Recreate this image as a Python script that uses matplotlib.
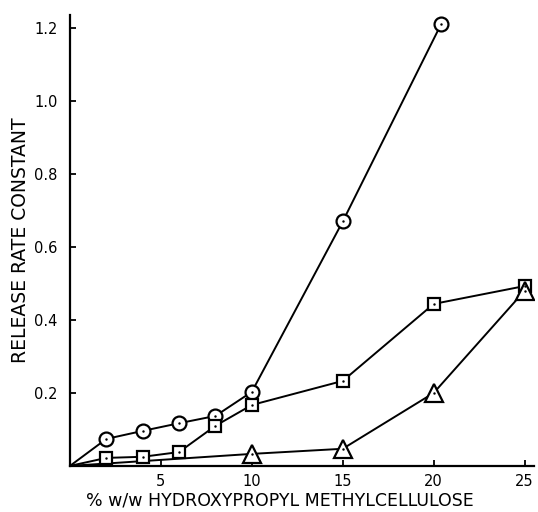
import numpy as np
import matplotlib.pyplot as plt

# release rate constant vs % w/w HPMC, three series
x_circle = [0, 2, 4, 6, 8, 10, 15, 20.4]
y_circle = [0, 0.074, 0.096, 0.117, 0.137, 0.203, 0.67, 1.21]
x_square = [0, 2, 4, 6, 8, 10, 15, 20, 25]
y_square = [0, 0.022, 0.025, 0.038, 0.11, 0.167, 0.233, 0.444, 0.493]
x_tri = [0, 10, 15, 20, 25]
y_tri = [0, 0.033, 0.047, 0.2, 0.48]

xticks = [5, 10, 15, 20, 25]
yticks = [0.2, 0.4, 0.6, 0.8, 1.0, 1.2]

plt.rcParams['font.family'] = ['DejaVu Sans']

fig = plt.figure(figsize=(5.38, 5.12), dpi=100)
ax = fig.add_axes([0.130, 0.090, 0.862, 0.880])

ax.plot(x_circle, y_circle, color='black', lw=1.4, zorder=2)
ax.plot(x_circle[1:], y_circle[1:], 'o', ms=10, mfc='white', mec='black', mew=1.6, zorder=3)
ax.plot(x_square, y_square, color='black', lw=1.4, zorder=2)
ax.plot(x_square[1:], y_square[1:], 's', ms=9, mfc='white', mec='black', mew=1.6, zorder=3)
ax.plot(x_tri, y_tri, color='black', lw=1.4, zorder=2)
ax.plot(x_tri[1:], y_tri[1:], '^', ms=13, mfc='white', mec='black', mew=1.6, zorder=3)

# small centre dots
for xs, ys in [(x_circle, y_circle), (x_square, y_square), (x_tri, y_tri)]:
    ax.plot(xs[1:], ys[1:], '.', ms=1.5, color='black', zorder=4)

ax.set_xlim(0, 25.5)
ax.set_ylim(0, 1.235)
ax.set_xticks(xticks)
ax.set_yticks(yticks)
ax.set_xticklabels([str(v) for v in xticks])
ax.set_yticklabels(['%.1f' % v for v in yticks])
ax.tick_params(direction='in', length=4, width=1.3, labelsize=10.5)
ax.tick_params(axis='x', pad=6)
ax.tick_params(axis='y', pad=9)

for s in ['top', 'right']:
    ax.spines[s].set_visible(False)
for s in ['left', 'bottom']:
    ax.spines[s].set_linewidth(1.6)

ax.set_xlabel('% w/w HYDROXYPROPYL METHYLCELLULOSE', fontsize=12.5)
ax.xaxis.set_label_coords(0.4526, -0.057)
ax.set_ylabel('RELEASE RATE CONSTANT', fontsize=13.5)
ax.yaxis.set_label_coords(-0.087, 0.50)

fig.savefig('out.png', dpi=100)
